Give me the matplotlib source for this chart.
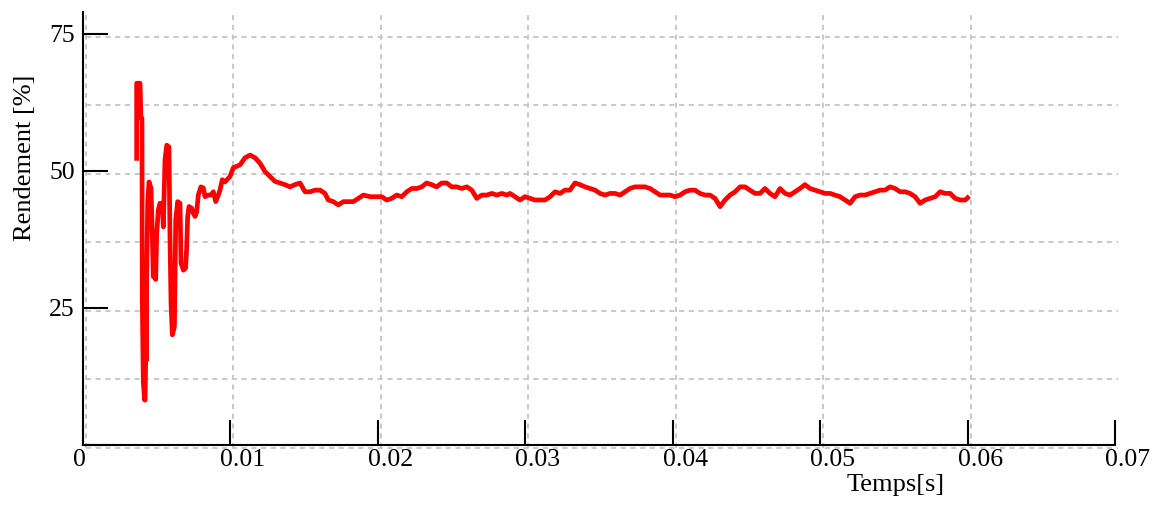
import matplotlib
matplotlib.use("Agg")
import matplotlib.pyplot as plt
import matplotlib.transforms as mtransforms

plt.rcParams['font.family'] = ['Liberation Serif', 'DejaVu Serif']

# Rendement [%] vs Temps [s]
temps = [
    0.00364, 0.00364, 0.00387, 0.00393, 0.00400, 0.00402, 0.00409, 0.00418,
    0.00421, 0.00425, 0.00432, 0.00432, 0.00439, 0.00448, 0.00461, 0.00470,
    0.00477, 0.00484, 0.00493, 0.00500, 0.00511, 0.00522, 0.00538, 0.00545,
    0.00556, 0.00568, 0.00583, 0.00590, 0.00597, 0.00606, 0.00620, 0.00624,
    0.00629, 0.00642, 0.00658, 0.00665, 0.00681, 0.00696, 0.00703, 0.00710,
    0.00719, 0.00737, 0.00748, 0.00760, 0.00771, 0.00782, 0.00800, 0.00816,
    0.00828, 0.00850, 0.00868, 0.00884, 0.00900, 0.00918, 0.00929, 0.00945,
    0.00963, 0.00997, 0.01020, 0.01065, 0.01099, 0.01133, 0.01167,
    0.01201, 0.01234, 0.01268, 0.01302, 0.01336, 0.01370, 0.01404, 0.01438,
    0.01472, 0.01506, 0.01540, 0.01574, 0.01608, 0.01641, 0.01664, 0.01698,
    0.01732, 0.01766, 0.01800, 0.01834, 0.01868, 0.01902, 0.01947, 0.01992,
    0.02026, 0.02060, 0.02094, 0.02128, 0.02162, 0.02196, 0.02230, 0.02264,
    0.02297, 0.02331, 0.02365, 0.02399, 0.02433, 0.02467, 0.02501, 0.02535,
    0.02569, 0.02603, 0.02637, 0.02671, 0.02705, 0.02739, 0.02773, 0.02807,
    0.02841, 0.02875, 0.02896, 0.02930, 0.02964, 0.02998, 0.03032, 0.03066,
    0.03100, 0.03134, 0.03168, 0.03202, 0.03236, 0.03269, 0.03303, 0.03337,
    0.03371, 0.03405, 0.03439, 0.03473, 0.03507, 0.03541, 0.03575, 0.03609,
    0.03643, 0.03676, 0.03710, 0.03744, 0.03778, 0.03812, 0.03846, 0.03880,
    0.03914, 0.03948, 0.03982, 0.04016, 0.04050, 0.04083, 0.04117, 0.04151,
    0.04185, 0.04219, 0.04253, 0.04287, 0.04321, 0.04355, 0.04389, 0.04423,
    0.04457, 0.04490, 0.04524, 0.04558, 0.04592, 0.04626, 0.04660, 0.04694,
    0.04728, 0.04762, 0.04796, 0.04830, 0.04863, 0.04897, 0.04931, 0.04965,
    0.04999, 0.05033, 0.05067, 0.05101, 0.05135, 0.05169, 0.05203, 0.05237,
    0.05271, 0.05305, 0.05339, 0.05372, 0.05406, 0.05440, 0.05474, 0.05508,
    0.05542, 0.05576, 0.05610, 0.05644, 0.05678, 0.05712, 0.05746, 0.05780,
    0.05814, 0.05848, 0.05882, 0.05916, 0.05950, 0.05984, 0.06000,
]
rendement = [
    52.3, 66.0, 66.0, 59.6, 59.6, 26.8, 11.5, 8.2,
    8.2, 15.5, 15.5, 30.7, 44.4, 48.0, 46.9, 38.6,
    30.7, 31.5, 30.2, 38.6, 42.9, 44.1, 44.1, 39.8,
    52.0, 54.7, 54.4, 38.0, 25.9, 20.1, 21.6, 30.7,
    41.1, 44.4, 44.1, 33.2, 31.9, 32.3, 35.9, 41.7,
    43.5, 43.2, 42.3, 41.7, 42.5, 45.6, 47.1, 46.9,
    45.3, 45.6, 45.6, 46.2, 44.4, 45.6, 46.5, 48.4,
    48.0, 49.0, 50.6, 51.1, 52.4, 52.9, 52.4,
    51.4, 49.9, 49.0, 48.1, 47.8, 47.5, 47.1, 47.5,
    47.8, 46.2, 46.2, 46.5, 46.5, 45.9, 44.7, 44.4,
    43.8, 44.4, 44.4, 44.4, 45.0, 45.6, 45.3, 45.3,
    45.3, 44.7, 45.0, 45.6, 45.3, 46.2, 46.8, 46.8,
    47.1, 47.8, 47.5, 47.1, 47.8, 47.8, 47.1, 47.1,
    46.8, 47.1, 46.5, 45.0, 45.6, 45.6, 45.9, 45.6,
    45.9, 45.6, 45.9, 45.3, 44.7, 45.3, 45.0, 44.7,
    44.7, 44.7, 45.3, 46.2, 45.9, 46.5, 46.5, 47.8,
    47.5, 47.1, 46.8, 46.5, 45.9, 45.6, 45.9, 45.9,
    45.6, 46.2, 46.8, 47.1, 47.1, 47.1, 46.8, 46.2,
    45.6, 45.6, 45.6, 45.3, 45.6, 46.2, 46.5, 46.5,
    45.9, 45.6, 45.6, 45.0, 43.5, 44.7, 45.6, 46.2,
    47.1, 47.1, 46.5, 45.9, 45.9, 46.8, 45.9, 45.3,
    46.8, 45.9, 45.6, 46.2, 46.8, 47.5, 46.8, 46.5,
    46.2, 45.9, 45.9, 45.6, 45.3, 44.7, 44.1, 45.3,
    45.6, 45.6, 45.9, 46.2, 46.5, 46.5, 47.1, 46.8,
    46.2, 46.2, 45.9, 45.3, 44.1, 44.7, 45.0, 45.3,
    46.2, 45.9, 45.9, 45.0, 44.7, 44.7, 45.1,
]

x_ticks = [0, 0.01, 0.02, 0.03, 0.04, 0.05, 0.06, 0.07]
x_labels = ['0', '0.01', '0.02', '0.03', '0.04', '0.05', '0.06', '0.07']
y_ticks = [0, 25, 50, 75]
y_labels = ['', '25', '50', '75']
x_grid = [0, 0.01, 0.02, 0.03, 0.04, 0.05, 0.06]
y_grid = [0, 12.5, 25, 37.5, 50, 62.5, 75]

fig = plt.figure(figsize=(11.56, 5.08), dpi=100)
ax = fig.add_axes([83/1156, 63/508, 1032/1156, 433/508])
ax.set_xlim(0, 0.07)
ax.set_ylim(0, 79.0)

# grid is drawn a few pixels off the axes in the original
shift = mtransforms.ScaledTranslation(3/100, -3/100, fig.dpi_scale_trans)
grid_style = dict(color='#c8c8c8', lw=1.4, ls=(0, (2.6, 2.4)), clip_on=False, zorder=0)
for gx in x_grid:
    ax.plot([gx, gx], [0, 1], transform=ax.get_xaxis_transform() + shift, **grid_style)
for gy in y_grid:
    ax.plot([0, 1], [gy, gy], transform=ax.get_yaxis_transform() + shift, **grid_style)

ax.plot(temps, rendement, color='red', lw=3.4, zorder=3)

for s in ['top', 'right']:
    ax.spines[s].set_visible(False)
for s in ['left', 'bottom']:
    ax.spines[s].set_linewidth(1.5)
    ax.spines[s].set_zorder(4)

ax.set_xticks(x_ticks)
ax.set_xticklabels(x_labels)
ax.set_yticks(y_ticks)
ax.set_yticklabels(y_labels)
ax.tick_params(axis='both', direction='in', length=18, width=1.5, labelsize=18.5)
ax.tick_params(axis='x', pad=3)
ax.tick_params(axis='y', pad=6)

offset = mtransforms.ScaledTranslation(-10/100, 0, fig.dpi_scale_trans)
for lab in ax.get_xticklabels():
    lab.set_horizontalalignment('left')
    lab.set_transform(lab.get_transform() + offset)

fig.text(25/1156, 1 - 158/508, 'Rendement [%]', rotation=90, fontsize=19,
         ha='center', va='center')
fig.text(896/1156, 1 - 485/508, 'Temps[s]', fontsize=19, ha='center', va='center')

plt.savefig('out.png', dpi=100)
